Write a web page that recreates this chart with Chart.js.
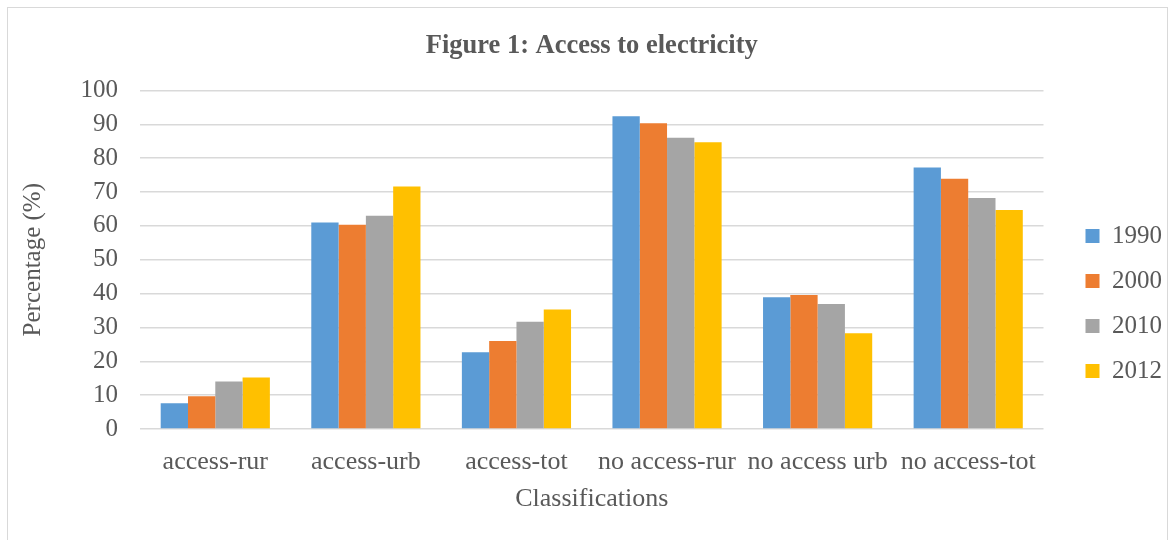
<!DOCTYPE html>
<html>
<head>
<meta charset="utf-8">
<script src="https://cdn.jsdelivr.net/npm/chart.js@4"></script>
<style>
  html, body { margin: 0; padding: 0; background: #ffffff; }
  #wrap { position: relative; width: 1172px; height: 540px; overflow: hidden; }
  #frame { position: absolute; left: 7px; top: 7px; width: 1161px; height: 600px; border: 1px solid #d9d9d9; box-sizing: border-box; }
  canvas { position: absolute; left: 0; top: 0; }
</style>
</head>
<body>
<div id="wrap">
  <div id="frame"></div>
  <canvas id="chart" width="1172" height="540"></canvas>
</div>
<script>
// Shares of population with / without electricity, by area
const categories = ['access-rur', 'access-urb', 'access-tot', 'no access-rur', 'no access urb', 'no access-tot'];
const years = ['1990', '2000', '2010', '2012'];
const values1990 = [7.6, 61.0, 22.7, 92.4, 38.9, 77.2];
const values2000 = [9.7, 60.3, 26.0, 90.3, 39.6, 73.9];
const values2010 = [14.0, 63.0, 31.7, 86.0, 36.9, 68.2];
const values2012 = [15.2, 71.6, 35.3, 84.7, 28.3, 64.7];
const yTicks = [0, 10, 20, 30, 40, 50, 60, 70, 80, 90, 100];

const seriesColors = ['#5B9BD5', '#ED7D31', '#A5A5A5', '#FFC000'];
const seriesValues = [values1990, values2000, values2010, values2012];

const serif = "'Liberation Serif', 'Times New Roman', serif";
Chart.defaults.font.family = serif;
Chart.defaults.color = '#595959';

// nudges the legend column to the right of the plot area
const legendShift = {
  id: 'legendShift',
  afterLayout(chart) {
    const lg = chart.legend;
    if (lg) { lg.left += 22; lg.right += 22; }
  }
};

new Chart(document.getElementById('chart'), {
  type: 'bar',
  data: {
    labels: categories,
    datasets: years.map((y, i) => ({
      label: y,
      data: seriesValues[i],
      backgroundColor: seriesColors[i],
      borderWidth: 0,
      categoryPercentage: 0.725,
      barPercentage: 1.0
    }))
  },
  options: {
    responsive: false,
    animation: false,
    layout: { padding: { left: 10, right: 22, top: 0, bottom: 0 } },
    plugins: {
      title: {
        display: true,
        fullSize: false,
        text: 'Figure 1: Access to electricity',
        font: { size: 26.5, weight: 'bold', family: serif },
        color: '#595959',
        padding: { top: 30, bottom: 28.6 }
      },
      legend: {
        position: 'right',
        align: 'center',
        title: { display: true, text: '', font: { size: 10 }, padding: { top: 55, bottom: 0 } },
        labels: {
          boxWidth: 14,
          boxHeight: 14,
          padding: 20,
          font: { size: 25, family: serif },
          color: '#595959'
        }
      },
      tooltip: { enabled: false }
    },
    scales: {
      x: {
        grid: { display: false, drawTicks: false },
        border: { display: false },
        ticks: { padding: 18, font: { size: 26 }, color: '#595959', maxRotation: 0, autoSkip: false },
        title: { display: true, text: 'Classifications', font: { size: 26 }, color: '#595959', padding: { top: 0, bottom: 25 } },
        afterFit(scale) { scale.height = 111; }
      },
      y: {
        min: 0,
        max: 100,
        afterBuildTicks(scale) { scale.ticks = yTicks.map(v => ({ value: v })); },
        grid: { color: '#d9d9d9', lineWidth: 1.5, drawTicks: false },
        border: { display: false },
        ticks: { padding: 22, font: { size: 25 }, color: '#595959' },
        title: { display: true, text: 'Percentage (%)', font: { size: 25 }, color: '#595959', padding: { top: 8, bottom: 0 } },
        afterFit(scale) { scale.width = 130; }
      }
    }
  },
  plugins: [legendShift]
});
</script>
</body>
</html>
